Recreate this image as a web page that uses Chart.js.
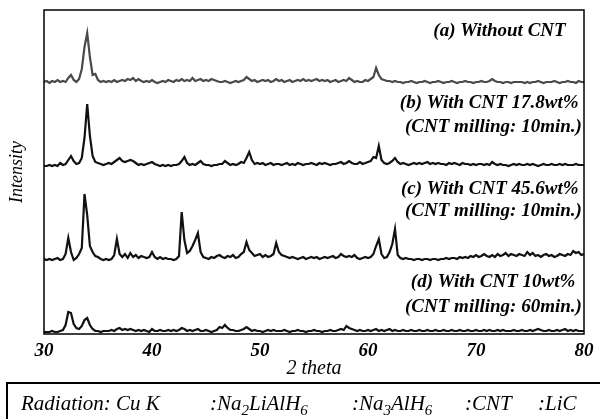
<!DOCTYPE html>
<html>
<head>
<meta charset="utf-8">
<script src="https://cdn.jsdelivr.net/npm/chart.js@4.4.1/dist/chart.umd.min.js"></script>
<style>
  html, body { margin: 0; padding: 0; background: #fff; }
  #wrap { position: relative; width: 600px; height: 419px; overflow: hidden; }
  #legendBox {
    position: absolute; left: 6px; top: 382px; width: 620px; height: 60px;
    border: 2px solid #000; box-sizing: border-box;
    font: italic 21px "Liberation Serif", serif; line-height: 21px; color: #000;
  }
  #legendBox .item { position: absolute; top: 9px; white-space: nowrap; }
  #legendBox .s { font-size: 15px; position: relative; top: 5px; }
</style>
</head>
<body>
<div id="wrap">
  <canvas id="xrd" width="600" height="419"></canvas>
  <div id="legendBox">
    <span class="item" style="left:13px">Radiation: Cu K</span>
    <span class="item" style="left:202px">:Na<span class="s">2</span>LiAlH<span class="s">6</span></span>
    <span class="item" style="left:344px">:Na<span class="s">3</span>AlH<span class="s">6</span></span>
    <span class="item" style="left:457px">:CNT</span>
    <span class="item" style="left:530px">:LiC</span>
  </div>
</div>
<script>
// 2 theta grid (deg)
const twoTheta = [
  30, 30.25, 30.5, 30.75, 31, 31.25, 31.5, 31.75, 32, 32.25, 32.5, 32.75, 33, 33.25, 33.5, 33.75, 34, 34.25, 34.5, 34.75,
  35, 35.25, 35.5, 35.75, 36, 36.25, 36.5, 36.75, 37, 37.25, 37.5, 37.75, 38, 38.25, 38.5, 38.75, 39, 39.25, 39.5, 39.75,
  40, 40.25, 40.5, 40.75, 41, 41.25, 41.5, 41.75, 42, 42.25, 42.5, 42.75, 43, 43.25, 43.5, 43.75, 44, 44.25, 44.5, 44.75,
  45, 45.25, 45.5, 45.75, 46, 46.25, 46.5, 46.75, 47, 47.25, 47.5, 47.75, 48, 48.25, 48.5, 48.75, 49, 49.25, 49.5, 49.75,
  50, 50.25, 50.5, 50.75, 51, 51.25, 51.5, 51.75, 52, 52.25, 52.5, 52.75, 53, 53.25, 53.5, 53.75, 54, 54.25, 54.5, 54.75,
  55, 55.25, 55.5, 55.75, 56, 56.25, 56.5, 56.75, 57, 57.25, 57.5, 57.75, 58, 58.25, 58.5, 58.75, 59, 59.25, 59.5, 59.75,
  60, 60.25, 60.5, 60.75, 61, 61.25, 61.5, 61.75, 62, 62.25, 62.5, 62.75, 63, 63.25, 63.5, 63.75, 64, 64.25, 64.5, 64.75,
  65, 65.25, 65.5, 65.75, 66, 66.25, 66.5, 66.75, 67, 67.25, 67.5, 67.75, 68, 68.25, 68.5, 68.75, 69, 69.25, 69.5, 69.75,
  70, 70.25, 70.5, 70.75, 71, 71.25, 71.5, 71.75, 72, 72.25, 72.5, 72.75, 73, 73.25, 73.5, 73.75, 74, 74.25, 74.5, 74.75,
  75, 75.25, 75.5, 75.75, 76, 76.25, 76.5, 76.75, 77, 77.25, 77.5, 77.75, 78, 78.25, 78.5, 78.75, 79, 79.25, 79.5, 79.75,
  80
];

// intensities (a.u.), above its own baseline
const withoutCnt = [
  1, 2, 0, 2, 1, 3, 1, 2, 1, 5, 8, 3, 1, 4, 14, 36, 50, 26, 8, 9,
  3, 1, 2, 1, 2, 1, 3, 1, 2, 3, 2, 4, 3, 5, 2, 4, 2, 1, 2, 1,
  3, 1, 0, 1, 2, 1, 3, 2, 1, 3, 2, 4, 2, 3, 2, 5, 2, 3, 4, 2,
  3, 2, 4, 3, 2, 1, 1, 2, 1, 0, 1, 2, 1, 2, 3, 6, 4, 2, 3, 1,
  2, 3, 2, 3, 1, 2, 4, 2, 3, 1, 2, 3, 1, 2, 3, 2, 4, 2, 3, 2,
  3, 4, 2, 3, 2, 3, 1, 2, 3, 1, 2, 3, 2, 5, 3, 1, 2, 1, 1, 3,
  2, 4, 6, 15, 8, 4, 3, 2, 2, 1, 2, 1, 1, 0, 1, 1, 2, 1, 0, 1,
  1, 2, 1, 0, 1, 1, 2, 1, 0, 1, 1, 2, 1, 0, 1, 1, 2, 1, 1, 0,
  1, 1, 2, 1, 1, 2, 4, 2, 1, 1, 0, 1, 1, 0, 1, 1, 1, 1, 0, 1,
  0, 1, 1, 2, 1, 0, 1, 1, 1, 2, 1, 0, 1, 1, 2, 1, 1, 0, 2, 1,
  1
];
const cnt178 = [
  0, 0, 1, 0, 1, 0, 3, 1, 2, 6, 10, 5, 2, 3, 8, 28, 62, 30, 10, 4,
  3, 2, 1, 2, 3, 2, 4, 6, 8, 5, 4, 5, 6, 5, 3, 1, 2, 1, 2, 3,
  4, 2, 1, 0, 1, 0, 1, 0, 1, 1, 2, 5, 9, 3, 1, 2, 1, 3, 5, 2,
  1, 1, 0, 1, 1, 2, 2, 5, 3, 1, 2, 1, 2, 4, 3, 8, 14, 6, 2, 3,
  2, 3, 1, 2, 3, 1, 2, 2, 1, 2, 3, 1, 2, 1, 3, 2, 1, 2, 2, 3,
  2, 1, 3, 2, 3, 2, 1, 2, 2, 3, 4, 2, 3, 5, 3, 2, 2, 4, 2, 3,
  4, 5, 9, 8, 20, 6, 3, 2, 3, 5, 8, 4, 2, 3, 2, 1, 2, 3, 2, 3,
  2, 3, 4, 2, 3, 2, 3, 2, 2, 1, 3, 2, 3, 2, 1, 3, 2, 2, 1, 2,
  1, 2, 2, 1, 2, 1, 4, 2, 1, 2, 1, 1, 0, 1, 2, 1, 2, 1, 1, 2,
  1, 2, 1, 0, 1, 2, 1, 1, 2, 1, 1, 2, 1, 2, 1, 1, 1, 2, 1, 1,
  1
];
const cnt456 = [
  1, 0, 1, 0, 1, 2, 0, 1, 6, 22, 8, 0, 2, 6, 12, 66, 45, 14, 8, 4,
  3, 1, 0, 1, 0, 1, 5, 21, 6, 3, 6, 2, 7, 3, 5, 2, 4, 3, 2, 3,
  8, 3, 1, 3, 1, 2, 1, 1, 0, 1, 4, 48, 20, 7, 9, 14, 20, 27, 8, 3,
  2, 1, 3, 2, 4, 5, 3, 2, 4, 3, 5, 2, 3, 6, 8, 18, 10, 7, 4, 5,
  6, 3, 5, 3, 4, 6, 17, 8, 5, 4, 3, 2, 3, 2, 1, 2, 3, 1, 2, 3,
  2, 3, 1, 2, 3, 2, 3, 4, 2, 3, 6, 4, 3, 4, 3, 5, 2, 1, 2, 3,
  2, 3, 6, 14, 21, 6, 2, 3, 8, 16, 31, 5, 2, 1, 2, 1, 1, 0, 1, 1,
  0, 1, 1, 0, 1, 1, 0, 1, 1, 2, 1, 2, 2, 1, 3, 2, 3, 2, 4, 3,
  5, 3, 4, 6, 4, 3, 5, 3, 6, 4, 5, 7, 4, 6, 5, 4, 6, 5, 4, 8,
  5, 7, 4, 5, 3, 5, 6, 4, 5, 3, 4, 6, 5, 4, 6, 5, 9, 7, 8, 5,
  6
];
const cnt10 = [
  0, 0, 0, 1, 0, 0, 1, 2, 7, 20, 19, 8, 4, 3, 6, 12, 14, 7, 3, 1,
  1, 0, 1, 1, 1, 2, 1, 3, 4, 2, 3, 2, 3, 2, 1, 2, 1, 2, 1, 0,
  3, 1, 1, 2, 1, 1, 2, 1, 2, 1, 2, 4, 3, 1, 2, 1, 2, 3, 1, 1,
  2, 1, 0, 1, 2, 5, 4, 7, 4, 2, 2, 1, 1, 2, 3, 5, 3, 1, 2, 1,
  1, 0, 1, 2, 1, 2, 1, 1, 1, 2, 1, 0, 1, 1, 2, 1, 1, 0, 1, 1,
  2, 1, 1, 0, 1, 1, 2, 1, 1, 2, 3, 2, 6, 4, 3, 2, 1, 2, 1, 1,
  2, 1, 2, 3, 1, 2, 1, 2, 3, 1, 2, 1, 1, 2, 1, 1, 2, 1, 1, 2,
  1, 1, 2, 1, 1, 2, 1, 1, 2, 1, 1, 2, 1, 1, 2, 1, 1, 2, 1, 1,
  2, 1, 1, 2, 1, 2, 1, 1, 2, 1, 2, 1, 1, 1, 2, 1, 1, 2, 1, 1,
  2, 1, 2, 3, 2, 1, 1, 2, 1, 1, 2, 1, 2, 3, 1, 2, 1, 2, 1, 1,
  1
];

const series = [withoutCnt, cnt178, cnt456, cnt10];
// vertical offset of each pattern (stacked for clarity)
const offsets = [251, 168, 74, 2];
const sampleLabels = [
  ['(a) Without CNT'],
  ['(b) With CNT 17.8wt%', '(CNT milling: 10min.)'],
  ['(c) With CNT 45.6wt%', '(CNT milling: 10min.)'],
  ['(d) With CNT 10wt%', '(CNT milling: 60min.)']
];
const xTicks = [30, 40, 50, 60, 70, 80];

const serif = '"Liberation Serif", "Times New Roman", serif';
const lineColors = ['#4a4a4a', '#111', '#111', '#111'];

// where the sample captions sit (2theta of right edge, intensity of text middle)
const captionSpots = [
  [{ x: 78.3, y: 303 }],
  [{ x: 79.5, y: 231 }, { x: 79.8, y: 207 }],
  [{ x: 79.5, y: 145 }, { x: 79.8, y: 123 }],
  [{ x: 79.2, y: 52 }, { x: 79.8, y: 27 }]
];

const frameAndCaptions = {
  id: 'frameAndCaptions',
  afterDraw(chart) {
    const { ctx, chartArea: a, scales: { x, y } } = chart;
    ctx.save();
    ctx.strokeStyle = '#000';
    ctx.lineWidth = 1.5;
    ctx.strokeRect(a.left, a.top, a.right - a.left, a.bottom - a.top);

    ctx.font = 'italic bold 19px ' + serif;
    ctx.fillStyle = '#000';
    ctx.textAlign = 'right';
    ctx.textBaseline = 'middle';
    sampleLabels.forEach((lines, i) => {
      lines.forEach((txt, j) => {
        const spot = captionSpots[i][j];
        ctx.fillText(txt, x.getPixelForValue(spot.x), y.getPixelForValue(spot.y));
      });
    });
    ctx.restore();
  }
};

new Chart(document.getElementById('xrd'), {
  type: 'line',
  data: {
    datasets: series.map((vals, k) => ({
      label: sampleLabels[k][0],
      data: twoTheta.map((t, i) => ({ x: t, y: vals[i] + offsets[k] })),
      borderColor: lineColors[k],
      borderWidth: 2.2,
      pointRadius: 0,
      tension: 0,
      fill: false
    }))
  },
  options: {
    responsive: false,
    animation: false,
    devicePixelRatio: 1,
    layout: { padding: { top: 10, right: 16, bottom: 40, left: 0 } },
    plugins: { legend: { display: false }, tooltip: { enabled: false } },
    scales: {
      x: {
        type: 'linear',
        min: 30,
        max: 80,
        afterBuildTicks(scale) { scale.ticks = xTicks.map(v => ({ value: v })); },
        ticks: {
          color: '#000',
          padding: 6,
          maxRotation: 0,
          font: { family: serif, size: 19, style: 'italic', weight: 'bold' }
        },
        grid: { display: false, drawTicks: false },
        border: { display: false },
        title: {
          display: true,
          text: '2 theta',
          color: '#000',
          padding: 0,
          font: { family: serif, size: 20, style: 'italic', weight: 'normal', lineHeight: 1 }
        },
        afterFit(scale) { scale.height = 45; }
      },
      y: {
        min: 0,
        max: 324,
        ticks: { display: false },
        grid: { display: false, drawTicks: false },
        border: { display: false },
        title: {
          display: true,
          text: 'Intensity',
          color: '#000',
          padding: { top: 6, bottom: 0 },
          font: { family: serif, size: 18, style: 'italic', weight: 'normal' }
        },
        afterFit(scale) { scale.width = 44; }
      }
    }
  },
  plugins: [frameAndCaptions]
});
</script>
</body>
</html>
